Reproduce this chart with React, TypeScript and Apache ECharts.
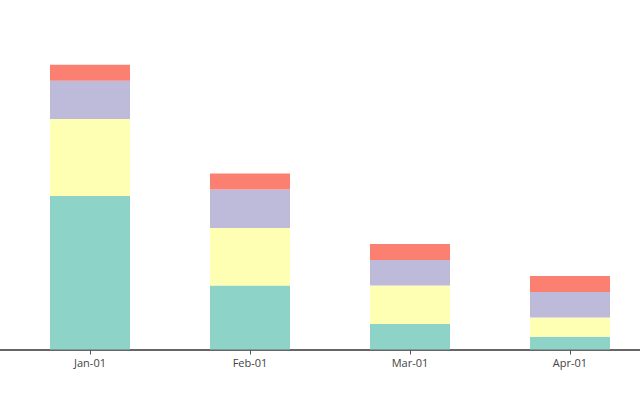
import React, { useEffect, useRef } from "react";
import * as echarts from "echarts";

const categories = ["Jan-01", "Feb-01", "Mar-01", "Apr-01"];
const seriesA = [48, 20, 8, 4];
const seriesB = [24, 18, 12, 6];
const seriesC = [12, 12, 8, 8];
const seriesD = [5, 5, 5, 5];
const seriesNames = ["A", "B", "C", "D"];
const colors = ["#8dd3c7", "#ffffb3", "#bebada", "#fb8072"];

export default function App() {
  const ref = useRef<HTMLDivElement>(null);
  useEffect(() => {
    document.body.style.margin = "0";
    document.body.style.overflow = "hidden";
    const chart = echarts.init(ref.current!, null, { renderer: "svg" });
    const values = [seriesA, seriesB, seriesC, seriesD];
    chart.setOption({
      animation: false,
      backgroundColor: "#fff",
      grid: [
        { left: 10, right: 0, top: 29.5, bottom: 50.5, containLabel: false },
        { left: 0, right: 10, top: 29.5, bottom: 50.5, containLabel: false },
      ],
      xAxis: [
        {
          type: "category",
          gridIndex: 0,
          data: categories,
          axisLine: { show: false },
          axisTick: { show: true, alignWithLabel: true, length: 5, lineStyle: { color: "#555", width: 1 } },
          axisLabel: { color: "#444", fontSize: 11, fontFamily: "Open Sans", margin: 7 },
          splitLine: { show: false },
        },
        {
          type: "category",
          gridIndex: 1,
          data: categories,
          axisLine: { show: true, lineStyle: { color: "#666", width: 2 } },
          axisTick: { show: false },
          axisLabel: { show: false },
          splitLine: { show: false },
        },
      ],
      yAxis: [
        { type: "value", gridIndex: 0, min: 0, max: 100, show: false },
        { type: "value", gridIndex: 1, min: 0, max: 100, show: false },
      ],
      series: values.map((v, i) => ({
        type: "bar",
        name: seriesNames[i],
        stack: "total",
        xAxisIndex: 0,
        yAxisIndex: 0,
        barWidth: "50%",
        data: v,
        itemStyle: { color: colors[i] },
        z: 1,
      })),
    });
    return () => chart.dispose();
  }, []);
  return (
    <div style={{ position: "fixed", left: 0, top: 0, width: 640, height: 400, overflow: "hidden" }}>
      <div ref={ref} style={{ width: 650, height: 400 }} />
    </div>
  );
}
